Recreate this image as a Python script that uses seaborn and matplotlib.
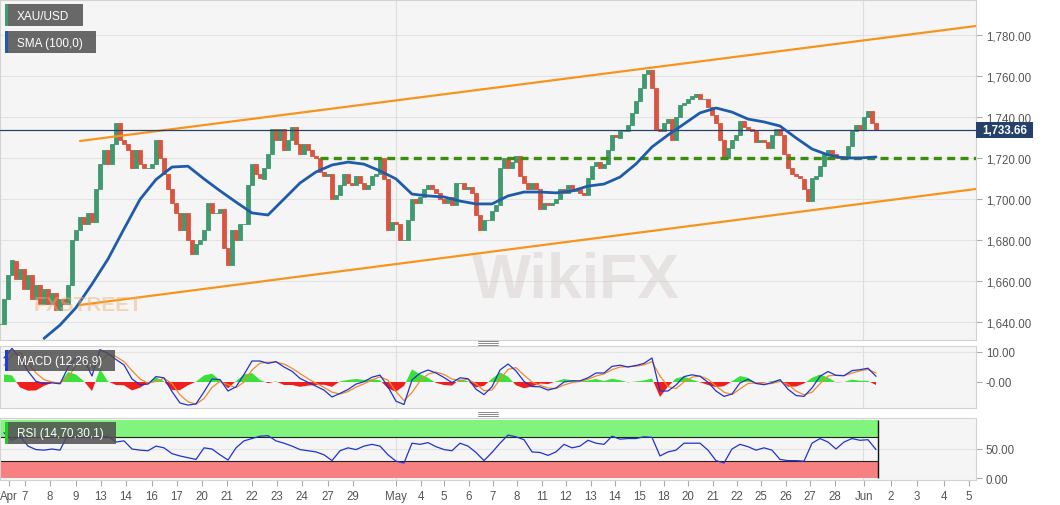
import numpy as np
import pandas as pd
import matplotlib
matplotlib.use("Agg")
import matplotlib.pyplot as plt
import seaborn as sns
from matplotlib.patches import Rectangle

# ---------------- data ----------------
# closing prices, one candle per sampling step
close = [
    1639, 1651, 1663, 1670, 1661, 1666, 1656, 1663, 1651, 1658,
    1649, 1656, 1649, 1654, 1646, 1651, 1649, 1658, 1680, 1685,
    1691, 1688, 1693, 1689, 1705, 1717, 1724, 1717, 1727, 1737,
    1729, 1727, 1724, 1715, 1724, 1717, 1715, 1715, 1717, 1729,
    1720, 1712, 1705, 1698, 1693, 1685, 1693, 1680, 1673, 1678,
    1680, 1685, 1698, 1693, 1693, 1695, 1676, 1668, 1685, 1680,
    1688, 1688, 1707, 1717, 1712, 1710, 1715, 1722, 1734, 1729,
    1734, 1724, 1729, 1735, 1727, 1722, 1727, 1724, 1721, 1720,
    1713, 1711, 1712, 1700, 1702, 1707, 1712, 1708, 1707, 1711,
    1708, 1705, 1707, 1711, 1712, 1720, 1710, 1685, 1689, 1688,
    1680, 1680, 1690, 1700, 1698, 1701, 1705, 1707, 1705, 1703,
    1700, 1698, 1701, 1697, 1708, 1708, 1705, 1706, 1703, 1692,
    1685, 1690, 1690, 1694, 1697, 1715, 1720, 1715, 1718, 1721,
    1711, 1708, 1705, 1708, 1705, 1695, 1698, 1697, 1698, 1700,
    1705, 1703, 1707, 1704, 1705, 1703, 1702, 1710, 1716, 1718,
    1715, 1717, 1724, 1731, 1730, 1733, 1733, 1736, 1742, 1748,
    1754, 1761, 1763, 1754, 1734, 1733, 1737, 1739, 1729, 1740,
    1746, 1747, 1749, 1750, 1751, 1749, 1749, 1745, 1741, 1737,
    1729, 1720, 1725, 1729, 1731, 1738, 1735, 1734, 1733, 1728,
    1729, 1728, 1725, 1731, 1734, 1731, 1722, 1715, 1712, 1711,
    1710, 1705, 1699, 1710, 1711, 1716, 1722, 1724, 1722, 1720,
    1721, 1720, 1726, 1733, 1736, 1734, 1740, 1743, 1737, 1733.66,
]

# SMA(100) values, every 4th candle starting at candle 11
sma_values = [
    1632, 1638.5, 1647, 1658.5, 1670.7, 1685.4, 1699.8, 1709.5, 1715.6, 1716,
    1709.8, 1704, 1698.5, 1693.2, 1692.2, 1700, 1707.8, 1713.2, 1716.6, 1718,
    1717, 1713.7, 1709.8, 1702.4, 1701.5, 1701, 1699, 1697.6, 1697.6, 1701.5,
    1703.4, 1703.4, 1703, 1703.9, 1706.3, 1707.3, 1710.7, 1717.1, 1725.4, 1731.2,
    1736.6, 1742, 1744.4, 1742.4, 1739, 1737.6, 1735.6, 1729.8, 1724.4, 1721.5,
    1720, 1720, 1720.5,
]

# MACD line, signal line and RSI, every 2nd candle starting at candle 1
macd_line = [
    8, 11.2, 8, 3.6, 0.2, -0.5, -0.3, -0.6, 4.8, 8,
    7.4, 2.0, 10.8, 9.5, 7.5, 5.7, 1.0, -0.9, -0.7, 1.8,
    1.4, -3.2, -7, -7.7, -7.3, -3.3, 1.0, 0.8, -3.0, -1.6,
    2.5, 7, 7.0, 6.2, 6.8, 5.0, 3.6, 1.2, -0.1, -1.4,
    -2.7, -5.0, -3.8, -2.5, -0.7, 0.1, 1.6, 2.3, -1.6, -6.4,
    -7.5, 0.7, 2.9, 4.0, 3.0, 1.5, -0.2, 1.4, 1.1, -2.4,
    -4.2, -1.6, 4.0, 6.0, 3.7, 0.2, -1.5, -1.6, -2.7, -2.0,
    0.0, 0.4, 0.4, 1.4, 3.0, 3.0, 5.2, 5.6, 5.0, 5.5,
    6.2, 8.0, -3.0, -3.0, -1.0, 1.8, 2.4, 1.9, -0.1, -3.0,
    -4.8, -4.0, -0.3, 0.9, -0.5, -0.9, -0.2, 0.8, -2.4, -4.5,
    -4.8, -2.0, 1.9, 3.5, 2.2, 2.1, 3.8, 4.1, 4.6, 1.9,
]
signal_line = [
    5.5, 9.0, 9.8, 6.5, 3.0, 0.8, 0.0, -0.4, 1.5, 5.5,
    7.2, 5.0, 6.5, 9.3, 8.5, 6.8, 3.8, 1.0, -0.4, 0.2,
    1.2, -0.5, -4.3, -6.6, -7.4, -5.5, -1.8, 0.2, -0.9, -1.9,
    0.0, 4.0, 6.3, 6.6, 6.6, 6.0, 4.6, 2.8, 1.1, -0.4,
    -1.8, -3.4, -4.0, -3.2, -1.7, -0.6, 0.7, 1.7, 0.6, -3.2,
    -6.2, -3.5, 0.3, 2.6, 3.3, 2.5, 1.0, 0.5, 0.9, -0.6,
    -2.9, -2.7, 0.8, 4.2, 4.8, 2.3, 0.0, -1.1, -2.0, -2.2,
    -1.0, -0.2, 0.2, 0.9, 2.0, 2.7, 4.1, 5.0, 5.1, 5.3,
    5.7, 6.8, 2.0, -1.5, -2.2, 0.0, 1.6, 2.0, 0.9, -1.3,
    -3.4, -4.2, -2.3, -0.5, -0.3, -0.7, -0.5, 0.2, -0.8, -3.0,
    -4.3, -3.4, -0.6, 2.0, 2.3, 2.1, 3.0, 3.7, 4.2, 3.0,
]
rsi_values = [
    78, 65, 72, 55, 49, 48, 50, 48, 75, 71,
    74, 69, 72, 72, 62, 64, 50, 48, 47, 55,
    52, 42, 38, 35, 32, 52, 50, 40, 31, 52,
    64, 68, 72, 73, 64, 60, 55, 49, 47, 45,
    40, 30, 47, 52, 49, 55, 58, 55, 40, 29,
    26, 60, 58, 61, 54, 49, 47, 60, 55, 44,
    30, 44, 60, 74, 71, 66, 45, 44, 39, 45,
    58, 52, 55, 65, 60, 58, 72, 67, 68, 68,
    71, 70, 38, 45, 48, 60, 60, 60, 48, 30,
    26, 50, 58, 54, 48, 52, 48, 32, 30, 30,
    29, 60, 68, 62, 50, 62, 68, 65, 66, 49,
]

upper_channel = [1728.3, 1784.4]
lower_channel = [1648.3, 1704.9]
support_level = 1720.0
last_price = 1733.66

price_ticks = [1640, 1660, 1680, 1700, 1720, 1740, 1760, 1780]
x_labels = ["Apr", "7", "8", "9", "13", "14", "16", "17", "20", "21", "22", "23",
            "24", "27", "29", "May", "4", "5", "6", "7", "8", "11", "12", "13",
            "14", "15", "18", "20", "21", "22", "25", "26", "27", "28", "Jun",
            "2", "3", "4", "5"]

# ---------------- layout (positions) ----------------
W, H = 1060, 506
PX = 4.0  # pixels per candle
x_label_px = [9, 25, 50, 76, 101, 126, 152, 177, 202, 227, 252, 277,
              302, 328, 353, 396, 421, 444, 469, 493, 517, 542, 566, 591,
              615, 640, 664, 688, 713, 737, 761, 786, 810, 835, 864,
              891, 917, 944, 969]
month_px = [396, 863]
channel_px = [80, 976]
support_px = [320, 976]

sns.set_theme(style="white")
plt.rcParams["font.family"] = ["Liberation Sans", "DejaVu Sans"]

fig = plt.figure(figsize=(W / 100, H / 100), dpi=100)
fig.patch.set_facecolor("white")

def ax_rect(top, bottom):
    return [0, 1 - bottom / H, 976 / W, (bottom - top) / H]

ax = fig.add_axes(ax_rect(1, 341))
axm = fig.add_axes(ax_rect(347, 409))
axr = fig.add_axes(ax_rect(419, 481))

xmax = 976 / PX
panel_bg = "#f5f5f5"
for a in (ax, axm, axr):
    a.set_facecolor(panel_bg)
    a.set_xlim(0, xmax)
    for s in a.spines.values():
        s.set_color("#d2d2d2")
        s.set_linewidth(0.8)
    a.yaxis.tick_right()
    a.tick_params(axis="y", direction="out", length=4, width=0.8, color="#aaaaaa",
                  labelsize=8.3, labelcolor="#555555", pad=3)
    a.tick_params(axis="x", bottom=False, labelbottom=False)
    for m in month_px:
        a.axvline(m / PX, color="#dddddd", lw=0.8, zorder=0.5)

# ---------------- main price panel ----------------
ax.set_ylim(1780 - (341 - 36) / 2.05, 1780 + (36 - 1) / 2.05)
ax.set_yticks(price_ticks)
ax.set_yticklabels([f"{v:,.2f}" for v in price_ticks])
for v in price_ticks:
    ax.axhline(v, color="#e3e3e3", lw=0.8, zorder=0.4)

c = np.array(close, dtype=float)
idx = np.arange(len(c))
o = np.r_[c[0], c[:-1]]
up = c >= o
colors = np.where(up, "#3f9a70", "#d8553f")
ax.bar(idx, c - o, bottom=o, width=0.88, color=colors, edgecolor=colors,
       linewidth=0.6, zorder=3)

sma_x = 11 + 4 * np.arange(len(sma_values))
sns.lineplot(x=sma_x, y=sma_values, ax=ax, color="#1f5bab", lw=2.0, zorder=5)

chx = np.array(channel_px) / PX
sns.lineplot(x=chx, y=upper_channel, ax=ax, color="#f7941d", lw=1.6, zorder=4)
sns.lineplot(x=chx, y=lower_channel, ax=ax, color="#f7941d", lw=1.6, zorder=4)
ax.hlines(support_level, support_px[0] / PX, support_px[1] / PX, colors="#3b8d0c",
          lw=2.4, linestyles=(0, (2.4, 1.6)), zorder=4)
ax.axhline(last_price, color="#29426b", lw=0.9, zorder=4.5)
ax.set_xlim(0, xmax)

# ---------------- MACD panel ----------------
ind_x = 1 + 2 * np.arange(len(macd_line))
macd_a = np.array(macd_line)
sig_a = np.array(signal_line)
hist = macd_a - sig_a
axm.set_ylim(-26 / 3, 12)
axm.set_yticks([0, 10])
axm.set_yticklabels(["-0.00", "10.00"])
axm.axhline(10, color="#e3e3e3", lw=0.8, zorder=0.4)
axm.fill_between(ind_x, 0, hist, where=hist >= 0, interpolate=True,
                 color="#3be03b", lw=0, zorder=2)
axm.fill_between(ind_x, 0, hist, where=hist < 0, interpolate=True,
                 color="#f01e1e", lw=0, zorder=2)
sns.lineplot(x=ind_x, y=signal_line, ax=axm, color="#f08a2c", lw=0.9, zorder=3)
sns.lineplot(x=ind_x, y=macd_line, ax=axm, color="#2233cc", lw=0.9, zorder=4)
axm.set_xlim(0, xmax)

# ---------------- RSI panel ----------------
axr.set_ylim(-3.4, 103.4)
axr.set_yticks([0, 50])
axr.set_yticklabels(["0.00", "50.00"])
axr.axhline(50, color="#e3e3e3", lw=0.8, zorder=0.4)
last_x = len(c) - 1 + 0.5
axr.fill_between([0, last_x], 70, 100, color="#80f47c", lw=0, zorder=1)
axr.fill_between([0, last_x], 0, 30, color="#f78080", lw=0, zorder=1)
axr.hlines([70, 30], 0, last_x, colors="#222222", lw=0.8, zorder=2)
axr.vlines(last_x, 0, 100, colors="#111111", lw=1.0, zorder=2)
sns.lineplot(x=ind_x, y=rsi_values, ax=axr, color="#2233cc", lw=0.9, zorder=4)
axr.set_xlim(0, xmax)
axr.set_xticks(np.array(x_label_px) / PX)
axr.set_xticklabels(x_labels)
axr.tick_params(axis="x", bottom=True, labelbottom=True, direction="out", length=4,
                width=0.8, color="#aaaaaa", labelsize=8.3, labelcolor="#555555", pad=3)
for a in (ax, axm, axr):
    a.set_xlabel("")
    a.set_ylabel("")
    if a.get_legend() is not None:
        a.get_legend().remove()

# ---------------- overlays in pixel coordinates ----------------
def fbox(x, y, w, h, color, alpha=1.0, z=10):
    fig.add_artist(Rectangle((x / W, 1 - (y + h) / H), w / W, h / H,
                             transform=fig.transFigure, facecolor=color,
                             edgecolor="none", alpha=alpha, zorder=z))

def ftext(x, y, s, **kw):
    fig.text(x / W, 1 - y / H, s, **kw)

# watermark
ftext(576, 282, "WikiFX", fontsize=45, fontweight="bold", color="#d6cbcb",
      alpha=0.45, ha="center", va="center", zorder=6)
ftext(88, 306, "FXSTREET", fontsize=15, fontweight="bold", color="#f0b070",
      alpha=0.45, ha="center", va="center", zorder=6)

# legend boxes
for (x, y, w, h, stripe, label) in [
        (5, 5, 78, 22, "#3d9c74", "XAU/USD"),
        (5, 32, 91, 22, "#1f5bab", "SMA (100,0)"),
        (5, 351, 110, 21, "#1a3fe0", "MACD (12,26,9)"),
        (5, 423, 111, 22, "#22cc22", "RSI (14,70,30,1)")]:
    fbox(x, y, w, h, "#4f4f4f", alpha=0.85, z=10)
    fbox(x, y, 3, h, stripe, z=11)
    ftext(x + 12, y + h / 2 + 0.5, label, fontsize=8.5, color="white",
          va="center", ha="left", zorder=12)

# last price label
fbox(976, 123, 57, 16, "#25406a", z=10)
ftext(1004.5, 131.5, f"{last_price:,.2f}", fontsize=8.3, fontweight="bold",
      color="white", ha="center", va="center", zorder=12)

# panel resize handles
for yy in (341.5, 343.5, 345.5, 412.5, 414.5, 416.5):
    fig.add_artist(plt.Line2D([478 / W, 498 / W], [1 - yy / H, 1 - yy / H],
                              transform=fig.transFigure, color="#8a8a8a", lw=0.7))

fig.savefig("out.png", dpi=100, facecolor="white")
